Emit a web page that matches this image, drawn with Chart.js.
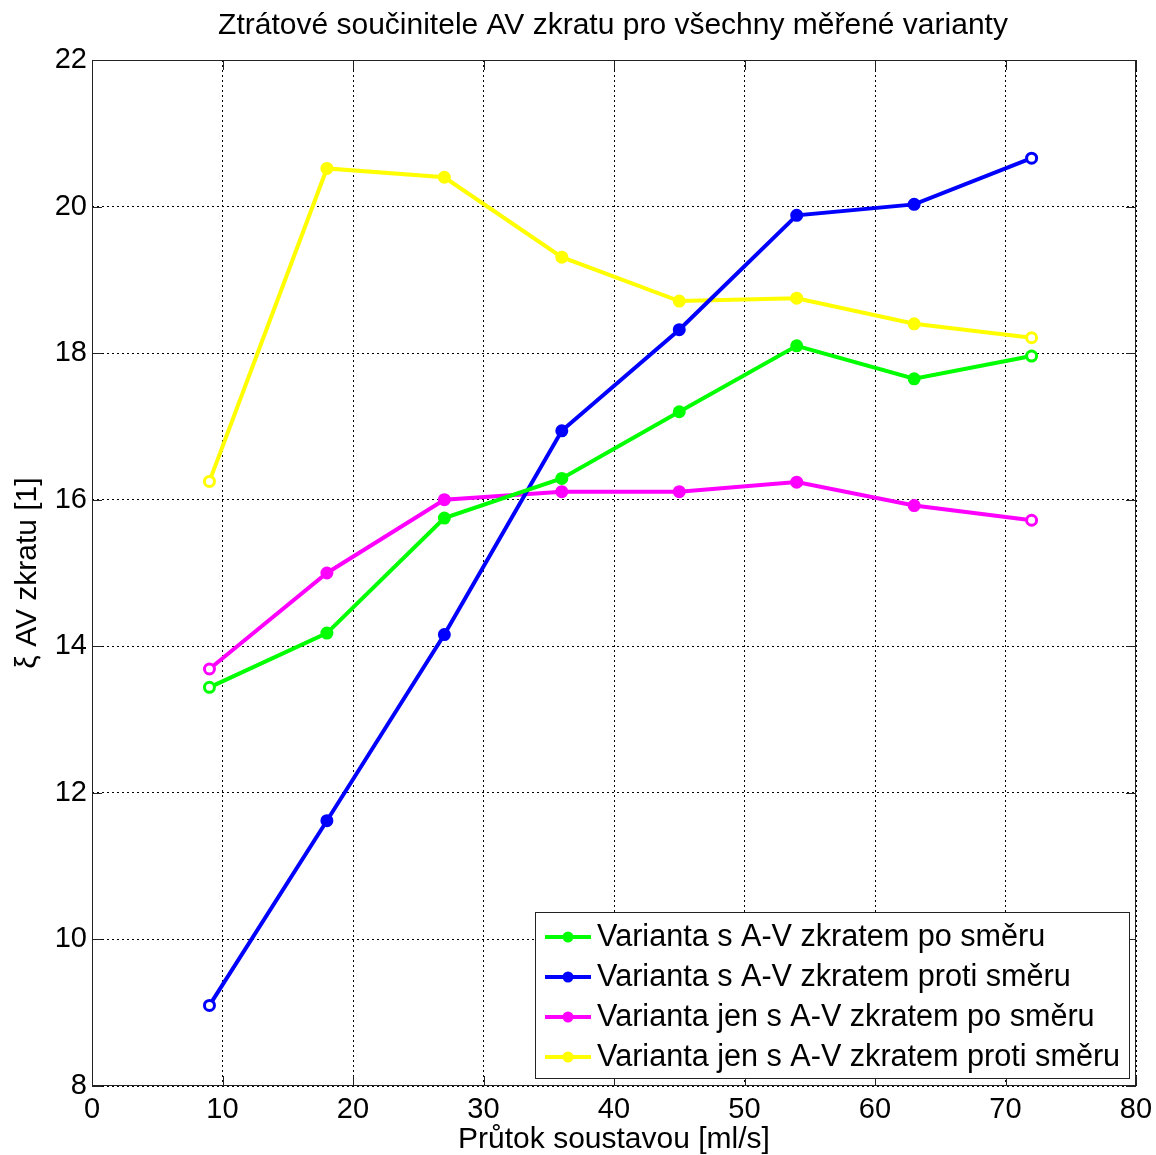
<!DOCTYPE html>
<html>
<head>
<meta charset="utf-8">
<script src="https://cdn.jsdelivr.net/npm/chart.js@4/dist/chart.umd.min.js"></script>
<style>
  html, body { margin: 0; padding: 0; background: #fff; }
  #wrap { position: relative; width: 1156px; height: 1155px; }
</style>
</head>
<body>
<div id="wrap"><canvas id="c" width="1156" height="1155"></canvas></div>
<script>
const titleText = "Ztrátové součinitele AV zkratu pro všechny měřené varianty";
const xTitle = "Průtok soustavou [ml/s]";
const yTitle = "ξ AV zkratu [1]";
const flow = [9, 18, 27, 36, 45, 54, 63, 72];
const seriesNames = [
  "Varianta s A-V zkratem po směru",
  "Varianta s A-V zkratem proti směru",
  "Varianta jen s A-V zkratem po směru",
  "Varianta jen s A-V zkratem proti směru"
];
const greenVals   = [13.44, 14.18, 15.75, 16.29, 17.20, 18.10, 17.65, 17.96];
const blueVals    = [9.10, 11.62, 14.16, 16.94, 18.32, 19.88, 20.03, 20.66];
const magentaVals = [13.69, 15.00, 16.00, 16.11, 16.11, 16.24, 15.92, 15.72];
const yellowVals  = [16.25, 20.52, 20.40, 19.31, 18.71, 18.75, 18.40, 18.21];
const colors = ["#00ff00", "#0000ff", "#ff00ff", "#ffff00"];
const xTicks = [0, 10, 20, 30, 40, 50, 60, 70, 80];
const yTicks = [8, 10, 12, 14, 16, 18, 20, 22];

const FONT = "'Liberation Sans', Arial, sans-serif";
const allVals = [greenVals, blueVals, magentaVals, yellowVals];

function mkDataset(i) {
  const vals = allVals[i];
  const n = vals.length;
  return {
    label: seriesNames[i],
    data: flow.map((x, k) => ({ x: x, y: vals[k] })),
    borderColor: colors[i],
    backgroundColor: colors[i],
    borderWidth: 4,
    pointRadius: 5,
    pointBorderWidth: 3,
    pointBorderColor: colors[i],
    pointBackgroundColor: vals.map((v, k) => (k === 0 || k === n - 1) ? "#ffffff" : colors[i]),
    tension: 0,
    fill: false
  };
}

const frame = {
  id: "frame",
  afterDraw(chart) {
    const ctx = chart.ctx;
    const a = chart.chartArea;
    ctx.save();
    ctx.strokeStyle = "#222";
    ctx.lineWidth = 1;
    ctx.setLineDash([]);
    ctx.strokeRect(a.left + 0.5, a.top + 0.5, a.right - a.left - 1, a.bottom - a.top - 1);
    const xs = chart.scales.x, ys = chart.scales.y;
    ctx.beginPath();
    xTicks.forEach(t => {
      const px = Math.round(xs.getPixelForValue(t)) + 0.5;
      ctx.moveTo(px, a.bottom); ctx.lineTo(px, a.bottom - 10);
      ctx.moveTo(px, a.top); ctx.lineTo(px, a.top + 10);
    });
    yTicks.forEach(t => {
      const py = Math.round(ys.getPixelForValue(t)) + 0.5;
      ctx.moveTo(a.left, py); ctx.lineTo(a.left + 10, py);
      ctx.moveTo(a.right, py); ctx.lineTo(a.right - 10, py);
    });
    ctx.stroke();

    ctx.fillStyle = "#000";
    ctx.font = "30px " + FONT;
    ctx.textAlign = "center";
    ctx.textBaseline = "middle";
    ctx.fillText(titleText, 613, 26);

    const lx = 535, ly = 912, lw = 594, lh = 166;
    ctx.fillStyle = "#fff";
    ctx.fillRect(lx, ly, lw, lh);
    ctx.strokeStyle = "#222";
    ctx.lineWidth = 1;
    ctx.strokeRect(lx + 0.5, ly + 0.5, lw, lh);
    chart.data.datasets.forEach((ds, i) => {
      const cy = 937 + i * 40;
      ctx.strokeStyle = ds.borderColor;
      ctx.lineWidth = 4;
      ctx.beginPath();
      ctx.moveTo(545, cy); ctx.lineTo(591, cy);
      ctx.stroke();
      ctx.fillStyle = ds.borderColor;
      ctx.beginPath();
      ctx.arc(568, cy, 5.5, 0, Math.PI * 2);
      ctx.fill();
      ctx.fillStyle = "#000";
      ctx.font = "30.6px " + FONT;
      ctx.textAlign = "left";
      ctx.textBaseline = "middle";
      ctx.fillText(ds.label, 597, cy + 1);
    });
    ctx.restore();
  }
};

new Chart(document.getElementById("c"), {
  type: "line",
  data: { datasets: [0, 1, 2, 3].map(mkDataset) },
  options: {
    responsive: false,
    animation: false,
    devicePixelRatio: 1,
    layout: { padding: { top: 60, right: 20, left: 0, bottom: 0 } },
    plugins: {
      legend: { display: false },
      title: { display: false },
      tooltip: { enabled: false }
    },
    scales: {
      x: {
        type: "linear",
        min: 0, max: 80,
        afterBuildTicks(scale) { scale.ticks = xTicks.map(v => ({ value: v })); },
        afterFit(scale) { scale.height = 69; scale.paddingRight = 0; scale.paddingLeft = 0; },
        grid: { color: "#000", lineWidth: 1, drawTicks: false },
        border: { display: false, dash: [2, 3] },
        ticks: { color: "#000", font: { family: FONT, size: 29 }, padding: 7, maxRotation: 0 },
        title: { display: true, text: xTitle, color: "#000", font: { family: FONT, size: 30 }, padding: { top: 0, bottom: -3 } }
      },
      y: {
        type: "linear",
        min: 8, max: 22,
        afterBuildTicks(scale) { scale.ticks = yTicks.map(v => ({ value: v })); },
        afterFit(scale) { scale.width = 92; scale.paddingTop = 0; scale.paddingBottom = 0; },
        grid: { color: "#000", lineWidth: 1, drawTicks: false },
        border: { display: false, dash: [2, 3] },
        ticks: { color: "#000", font: { family: FONT, size: 29 }, padding: 5 },
        title: { display: true, text: yTitle, color: "#000", font: { family: FONT, size: 30 }, padding: { top: 10, bottom: 0 } }
      }
    }
  },
  plugins: [frame]
});
</script>
</body>
</html>
